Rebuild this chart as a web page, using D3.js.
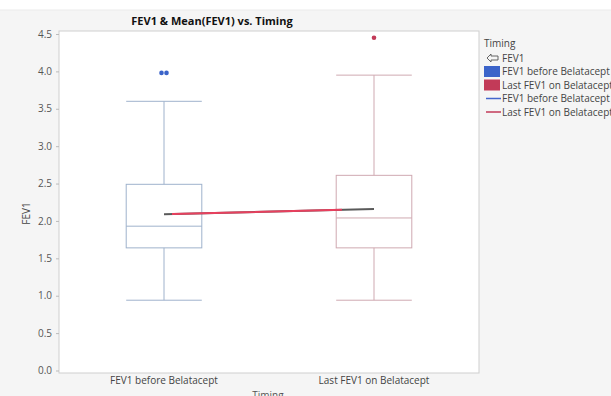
<!DOCTYPE html>
<html>
<head>
<meta charset="utf-8">
<script src="https://cdn.jsdelivr.net/npm/d3@7"></script>
<style>
  body { margin: 0; background: #fff; }
  text { font-family: "Open Sans", "Noto Sans", sans-serif; }
</style>
</head>
<body>
<div id="chart"></div>
<script>
// data
var groups = ["FEV1 before Belatacept", "Last FEV1 on Belatacept"];
var q1 = [1.64, 1.64];
var medians = [1.93, 2.04];
var q3 = [2.49, 2.61];
var whiskLow = [0.94, 0.94];
var whiskHigh = [3.60, 3.95];
var outliers = [[3.98, 3.98], [4.45]];
var means = [2.09, 2.16];
var yTicks = [0, 0.5, 1, 1.5, 2, 2.5, 3, 3.5, 4, 4.5];

var boxColors = ["#9fb2cc", "#cfa9b1"];
var dotColors = ["#3a63c9", "#c23a58"];

var W = 611, H = 396;
var plotL = 59, plotR = 479, plotT = 34, plotB = 370.5;

var svg = d3.select("#chart").append("svg")
  .attr("width", W).attr("height", H);

// gray panel
svg.append("rect").attr("x", 0).attr("y", 10).attr("width", W).attr("height", H - 10)
  .attr("fill", "#f5f5f5");
svg.append("line").attr("x1", 0).attr("x2", W).attr("y1", 10).attr("y2", 10)
  .attr("stroke", "#ebebeb");

// plot frame
svg.append("rect").attr("x", plotL).attr("y", 31).attr("width", plotR - plotL).attr("height", 342)
  .attr("fill", "#fff").attr("stroke", "#cfcfcf");

var x = d3.scaleBand().domain(groups).range([plotL, plotR]);
var y = d3.scaleLinear().domain([0, 4.5]).range([plotB, plotT]);

// y axis
var yAxis = svg.append("g").attr("transform", "translate(" + plotL + ",0)")
  .call(d3.axisLeft(y).tickValues(yTicks).tickFormat(d3.format(".1f")).tickSize(3).tickPadding(4));
yAxis.select(".domain").remove();
yAxis.selectAll("line").attr("stroke", "#bbb");
yAxis.selectAll("text").attr("fill", "#555").style("font-size", "10px");

// x axis labels
var xAxis = svg.append("g").attr("transform", "translate(0," + 373 + ")")
  .call(d3.axisBottom(x).tickSize(0).tickPadding(4));
xAxis.select(".domain").remove();
xAxis.selectAll("text").attr("fill", "#444").style("font-size", "10px");

svg.append("text").attr("x", 268).attr("y", 399).attr("text-anchor", "middle")
  .attr("fill", "#555").style("font-size", "10px").text("Timing");

svg.append("text").attr("transform", "translate(30," + y(2.1) + ") rotate(-90)")
  .attr("text-anchor", "middle").attr("fill", "#444").style("font-size", "10px").text("FEV1");

svg.append("text").attr("x", 212).attr("y", 25).attr("text-anchor", "middle")
  .attr("fill", "#111").style("font-size", "11px").style("font-weight", "bold")
  .text("FEV1 & Mean(FEV1) vs. Timing");

// boxes
var boxW = x.bandwidth() * 0.36;
var g = svg.selectAll(".box").data(groups).join("g").attr("class", "box");

g.each(function(d, i) {
  var el = d3.select(this);
  var cx = x(d) + x.bandwidth() / 2;
  var c = boxColors[i];
  el.append("line").attr("x1", cx).attr("x2", cx).attr("y1", y(whiskHigh[i])).attr("y2", y(q3[i]))
    .attr("stroke", c);
  el.append("line").attr("x1", cx).attr("x2", cx).attr("y1", y(q1[i])).attr("y2", y(whiskLow[i]))
    .attr("stroke", c);
  el.append("line").attr("x1", cx - boxW / 2).attr("x2", cx + boxW / 2)
    .attr("y1", y(whiskHigh[i])).attr("y2", y(whiskHigh[i])).attr("stroke", c);
  el.append("line").attr("x1", cx - boxW / 2).attr("x2", cx + boxW / 2)
    .attr("y1", y(whiskLow[i])).attr("y2", y(whiskLow[i])).attr("stroke", c);
  el.append("rect").attr("x", cx - boxW / 2).attr("y", y(q3[i]))
    .attr("width", boxW).attr("height", y(q1[i]) - y(q3[i]))
    .attr("fill", "none").attr("stroke", c);
  el.append("line").attr("x1", cx - boxW / 2).attr("x2", cx + boxW / 2)
    .attr("y1", y(medians[i])).attr("y2", y(medians[i])).attr("stroke", c);
  var n = outliers[i].length;
  el.selectAll("circle").data(outliers[i]).join("circle")
    .attr("cx", function(v, k) { return cx + (k - (n - 1) / 2) * 5; })
    .attr("cy", function(v) { return y(v); })
    .attr("r", 2.3).attr("fill", dotColors[i]);
});

// mean line
var meanLine = d3.line()
  .x(function(d, i) { return x(groups[i]) + x.bandwidth() / 2; })
  .y(function(d) { return y(d); });
svg.append("path").datum(means).attr("d", meanLine)
  .attr("fill", "none").attr("stroke", "#5a5a5a").attr("stroke-width", 2);
svg.append("path").datum(means).attr("d", meanLine)
  .attr("fill", "none").attr("stroke", "#e8405e").attr("stroke-width", 2)
  .attr("stroke-dasharray", "0,8,170,40");

// legend
var lg = svg.append("g").attr("transform", "translate(484,0)");
lg.append("text").attr("x", 0).attr("y", 47).attr("fill", "#444").style("font-size", "10px").text("Timing");
lg.append("path").attr("d", "M3,58 L7,54 L7,56 L14,56 L14,60 L7,60 L7,62 Z")
  .attr("fill", "none").attr("stroke", "#555").attr("stroke-width", 0.9);
lg.append("text").attr("x", 18).attr("y", 61.5).attr("fill", "#444").style("font-size", "10px").text("FEV1");

var legItems = [
  { type: "rect", color: dotColors[0], label: groups[0] },
  { type: "rect", color: dotColors[1], label: groups[1] },
  { type: "line", color: "#4466cc", label: groups[0] },
  { type: "line", color: "#c23a58", label: groups[1] }
];
var li = lg.selectAll(".li").data(legItems).join("g")
  .attr("transform", function(d, i) { return "translate(0," + (71.5 + i * 13.5) + ")"; });
li.each(function(d) {
  var el = d3.select(this);
  if (d.type === "rect") {
    el.append("rect").attr("x", 0).attr("y", -5.5).attr("width", 16).attr("height", 11).attr("fill", d.color);
  } else {
    el.append("line").attr("x1", 2).attr("x2", 17).attr("y1", 0).attr("y2", 0)
      .attr("stroke", d.color).attr("stroke-width", 1.5);
  }
  el.append("text").attr("x", 18).attr("y", 3.5).attr("fill", "#444").style("font-size", "10px").text(d.label);
});
</script>
</body>
</html>
